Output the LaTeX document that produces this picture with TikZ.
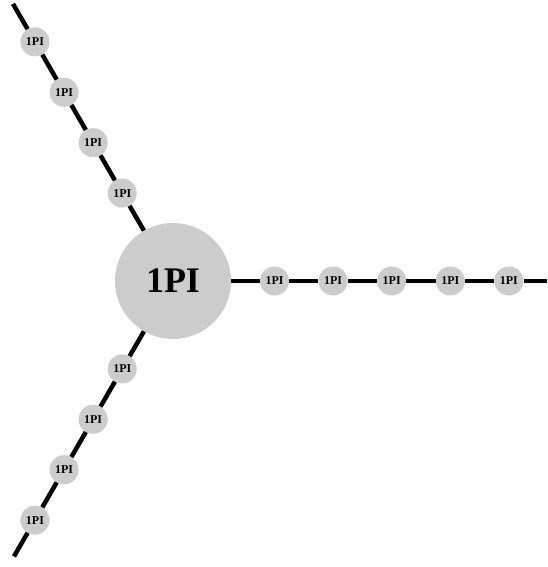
\documentclass[tikz,border=0pt]{standalone}
\usepackage{fontspec}
\setmainfont{Liberation Serif}
\usetikzlibrary{calc}
\begin{document}
\begin{tikzpicture}[x=1pt,y=1pt,
  bigblob/.style={circle,fill=black!20,inner sep=0pt,minimum size=116pt,font=\fontsize{36}{36}\selectfont\bfseries},
  smallblob/.style={circle,fill=black!20,inner sep=0pt,minimum size=29pt,font=\fontsize{12}{12}\selectfont\bfseries},
  leg/.style={line width=4.5pt,black}]
\useasboundingbox (0,0) rectangle (547,567);
\coordinate (C) at (173,286);
\node[bigblob] (B) at (C) {1PI};
% right chain
\foreach \k in {0,...,4} {
  \node[smallblob] (r\k) at ($(C)+(0:{101.5+58.6*\k})$) {1PI};
}
\foreach \k in {0,...,3} {
  \node[smallblob] (u\k) at ($(C)+(120:{101.5+58.2*\k})$) {1PI};
  \node[smallblob] (d\k) at ($(C)+(240:{101.5+58.2*\k})$) {1PI};
}
\coordinate (rend) at (547,286);
\coordinate (uend) at ($(C)+(120:320)$);
\coordinate (dend) at ($(C)+(240:318)$);
\draw[leg] (B) -- (r0) -- (r1) -- (r2) -- (r3) -- (r4) -- (rend);
\draw[leg] (B) -- (u0) -- (u1) -- (u2) -- (u3) -- (uend);
\draw[leg] (B) -- (d0) -- (d1) -- (d2) -- (d3) -- (dend);
\end{tikzpicture}
\end{document}
